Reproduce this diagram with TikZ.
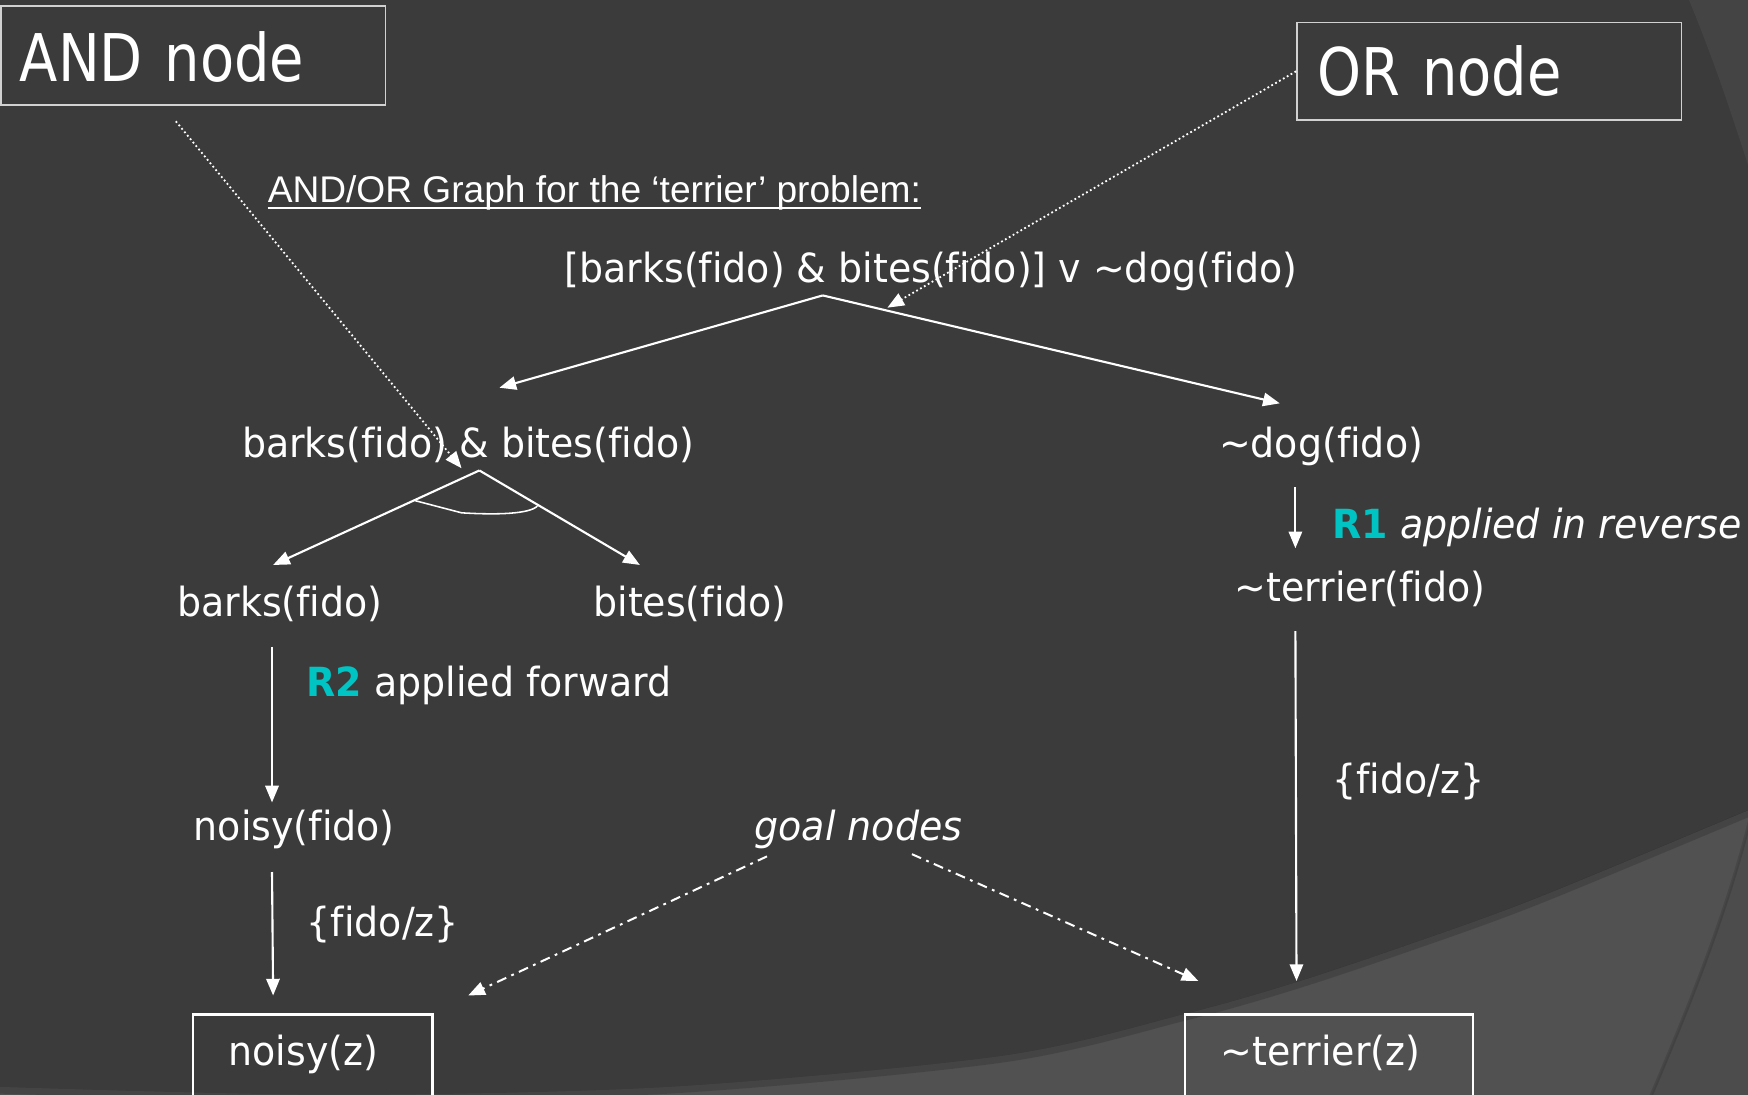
\documentclass[tikz,border=0pt]{standalone}
\usepackage{fontspec}
\setmainfont{DejaVu Sans}[FakeStretch=0.945,Ligatures=NoCommon]
\newfontfamily\tagfont{DejaVu Sans}[FakeStretch=0.85]
\newfontfamily\headfont{Liberation Sans}
\usepackage{tikz}
\usetikzlibrary{arrows.meta,positioning,calc}

\definecolor{slide}{HTML}{3B3B3B}
\definecolor{slidelow}{HTML}{515151}
\definecolor{slideside}{HTML}{444444}
\definecolor{slidecorner}{HTML}{4C4C4C}
\definecolor{rulename}{HTML}{00C3C3}

\begin{document}
\begin{tikzpicture}[
  x=1pt,y=-1pt,
  every node/.style={text=white},
  term/.style={inner sep=0pt,anchor=base,text height=27pt,text depth=8pt,
    font=\fontsize{36}{43}\selectfont},
  lbl/.style={term,anchor=base west},
  tag/.style={draw=white!82!black,line width=1.5pt,anchor=north west,align=left,
    inner ysep=0pt,font=\tagfont\fontsize{59}{70}\selectfont},
  goalbox/.style={term,draw=white,line width=2pt,anchor=north west,align=left,
    inner xsep=32pt,inner ysep=16pt,text height=30pt,text depth=30pt},
  arr/.style={-{Triangle[length=15pt,width=12pt]},white,line width=1.9pt},
  dotarr/.style={arr,line width=1.6pt,dash pattern=on 1.6pt off 2.4pt},
  dasharr/.style={arr,line width=1.8pt,dash pattern=on 9pt off 5pt on 2.5pt off 5pt}
]
\useasboundingbox (0,0) rectangle (1568,982);

% slide background
\begin{scope}
\clip (0,0) rectangle (1568,982);
\fill[slide] (0,0) rectangle (1568,982);
\fill[slideside] (1513,-5) .. controls (1538,55) and (1556,110) .. (1575,170) -- (1575,-5) -- cycle;
\fill[slidelow] plot[smooth] coordinates {(-20,972) (0,975) (300,982) (600,975) (900,947)
  (1065,909) (1160,882) (1256,850) (1375,807) (1568,727) (1600,713)}
  -- (1600,1000) -- (-20,1000) -- cycle;
\draw[black,opacity=0.15,line width=6pt] plot[smooth] coordinates {(-20,975) (0,978)
  (300,985) (600,978) (900,950) (1065,912) (1160,885) (1256,853) (1375,810) (1568,730) (1600,716)};
\fill[slidecorner] (1580,690) .. controls (1560,790) and (1525,880) .. (1478,990) -- (1580,990) -- cycle;
\draw[black,opacity=0.12,line width=3pt] (1580,690) .. controls (1560,790) and (1525,880) .. (1478,990);
\end{scope}

% callout boxes
\node[tag,inner xsep=17pt,text width=311pt,text height=67.5pt,text depth=21.3pt]
  (andtag) at (0,4.5) {AND node};
\node[tag,inner xsep=18.5pt,text width=308pt,text height=65.8pt,text depth=21.8pt]
  (ortag) at (1162.6,19.4) {OR node};

% heading
\node[lbl,font=\headfont\fontsize{33.3}{40}\selectfont] (title) at (240,182)
  {AND/OR Graph for the ‘terrier’ problem:};
\draw[white,line width=1.6pt] ([yshift=-4.5pt]title.base west) -- ([yshift=-4.5pt]title.base east);

% goal tree
\node[term] (root) at (835,253) {[barks(fido) \& bites(fido)] v \textasciitilde dog(fido)};
\node[term] (conj) at (420,410) {barks(fido) \& bites(fido)};
\node[term] (notdog) at (1185,410) {\textasciitilde dog(fido)};
\node[term] (barks) at (251,553) {barks(fido)};
\node[term] (bites) at (619,553) {bites(fido)};
\node[term] (noisyf) at (264,754) {noisy(fido)};
\node[term] (notterf) at (1220,540) {\textasciitilde terrier(fido)};
\node[goalbox,text width=151pt] (noisyz) at (172,909) {noisy(z)};
\node[goalbox,text width=194pt] (notterz) at (1062,909) {\textasciitilde terrier(z)};

\coordinate (rootfork) at (738,265);
\coordinate (andfork) at (430,422);

% rule and substitution labels
\node[lbl] (rtwo) at (275,625) {\textcolor{rulename}{\textbf{R2}} applied forward};
\node[lbl] (rone) at (1195,483) {\textcolor{rulename}{\textbf{R1}} \textit{applied in reverse}};
\node[lbl] (substl) at (275,840) {\{fido/z\}};
\node[lbl] (substr) at (1195,712) {\{fido/z\}};
\node[term,font=\itshape\fontsize{36}{43}\selectfont] (goal) at (770,754) {goal nodes};

% arrows
\draw[arr] (rootfork) -- ([xshift=28pt,yshift=35pt]conj.north);
\draw[arr] (rootfork) -- ([xshift=-37pt,yshift=21pt]notdog.north);
\draw[arr] (andfork) -- ([xshift=-6pt,yshift=19pt]barks.north);
\draw[arr] (andfork) -- ([xshift=-45pt,yshift=19pt]bites.north);
\draw[white,line width=1.4pt] (372,449) -- (414,460) .. controls (446,462) and (475,461) .. (482,454);
\draw[arr] ([xshift=-7pt,yshift=-19pt]barks.south) -- ([xshift=-20pt,yshift=7pt]noisyf.north);
\draw[arr] ([xshift=-20pt,yshift=-20pt]noisyf.south) -- ([xshift=-35.5pt,yshift=16pt]noisyz.north);
\draw[arr] ([xshift=-23pt,yshift=-19pt]notdog.south) -- ([xshift=-58pt,yshift=21pt]notterf.north);
\draw[arr] ([xshift=-58pt,yshift=-18pt]notterf.south) -- ([xshift=-29pt,yshift=29pt]notterz.north);

% pointers from the callouts
\draw[dotarr] ([xshift=-15.5pt,yshift=-14pt]andtag.south) -- ([xshift=-16pt,yshift=2pt]andfork);
\draw[dotarr] (ortag.west) -- ([xshift=58pt,yshift=-11pt]rootfork);
\draw[dasharr] ([xshift=-82pt,yshift=-6pt]goal.south) -- ([xshift=31pt,yshift=16pt]noisyz.north east);
\draw[dasharr] ([xshift=48pt,yshift=-4pt]goal.south) -- ([xshift=13pt,yshift=29pt]notterz.north west);
\end{tikzpicture}
\end{document}
